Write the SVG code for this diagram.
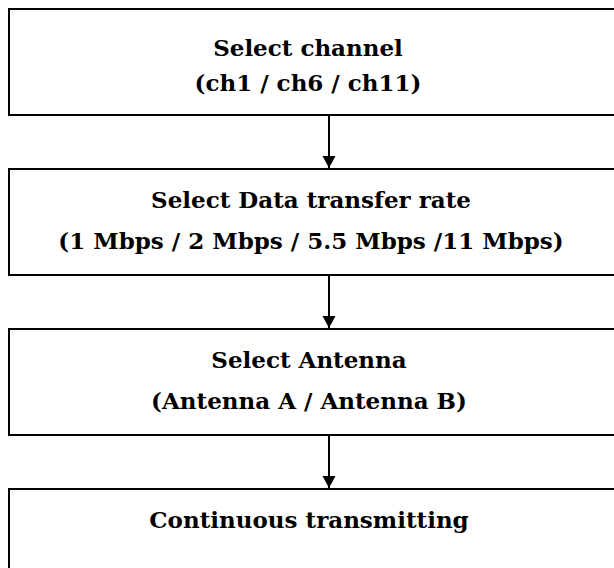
<svg xmlns="http://www.w3.org/2000/svg" width="614" height="568" viewBox="0 0 614 568">
<defs>
<style>
.box{fill:#fff;stroke:#000;stroke-width:2}
.t{font-family:"DejaVu Serif","Liberation Serif",serif;font-weight:bold;font-size:23px;fill:#000;text-anchor:middle}
.c{stroke:#000;stroke-width:2;fill:none}
</style>
<marker id="ah" markerWidth="14" markerHeight="14" refX="12" refY="6.5" orient="auto" markerUnits="userSpaceOnUse">
<path d="M0,0 L12,6.5 L0,13 Z" fill="#000"/>
</marker>
</defs>
<rect width="614" height="568" fill="#fff"/>
<g id="n1"><rect class="box" x="9" y="9" width="641" height="106"/>
<text class="t" x="308" y="56">Select channel</text>
<text class="t" x="308" y="91">(ch1 / ch6 / ch11)</text></g>
<g id="n2"><rect class="box" x="9" y="169" width="641" height="106"/>
<text class="t" x="311" y="208">Select Data transfer rate</text>
<text class="t" x="311" y="249">(1 Mbps / 2 Mbps / 5.5 Mbps /11 Mbps)</text></g>
<g id="n3"><rect class="box" x="9" y="329" width="641" height="106"/>
<text class="t" x="309" y="368">Select Antenna</text>
<text class="t" x="309" y="409">(Antenna A / Antenna B)</text></g>
<g id="n4"><rect class="box" x="9" y="489" width="641" height="106"/>
<text class="t" x="309" y="528">Continuous transmitting</text></g>
<g id="connectors">
<line class="c" x1="329" y1="115" x2="329" y2="168" marker-end="url(#ah)"/>
<line class="c" x1="329" y1="275" x2="329" y2="328" marker-end="url(#ah)"/>
<line class="c" x1="329" y1="435" x2="329" y2="488" marker-end="url(#ah)"/>
</g>
</svg>
